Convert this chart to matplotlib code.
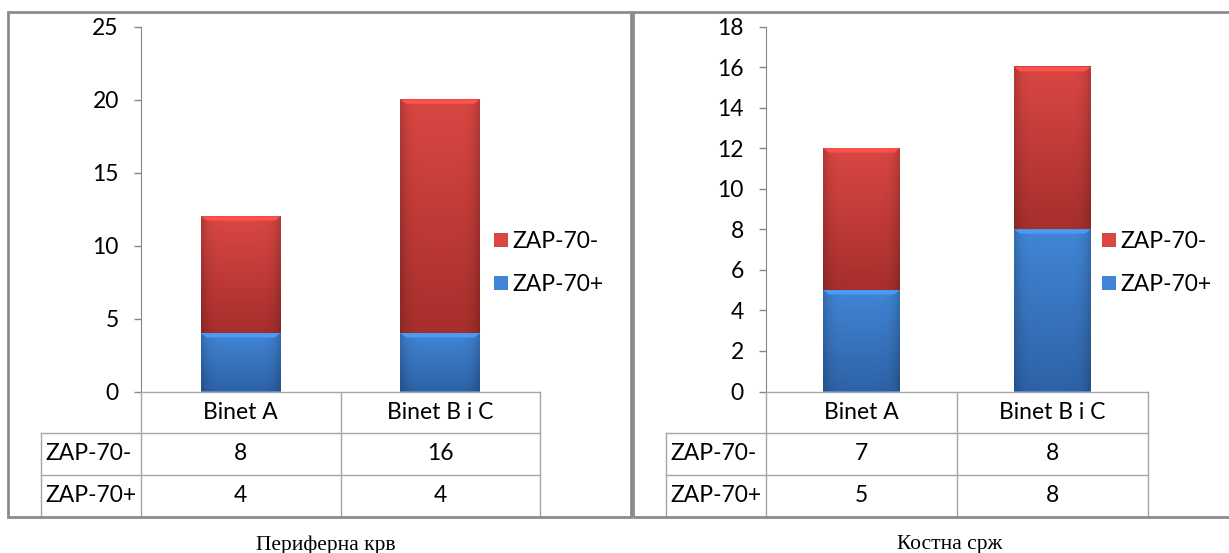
import numpy as np
import matplotlib
matplotlib.use("Agg")
import matplotlib.pyplot as plt
from matplotlib.colors import to_rgb

categories = ["Binet A", "Binet B i C"]
series = ["ZAP-70-", "ZAP-70+"]
blood_neg = [8, 16]
blood_pos = [4, 4]
marrow_neg = [7, 8]
marrow_pos = [5, 8]
blood_ticks = [0, 5, 10, 15, 20, 25]
marrow_ticks = [0, 2, 4, 6, 8, 10, 12, 14, 16, 18]
captions = ["Периферна крв", "Костна срж"]

W, H = 1229, 553
plt.rcParams['font.family'] = ['Lato', 'DejaVu Sans']
fig = plt.figure(figsize=(W / 100, H / 100), dpi=100)

RED = ("#DA4743", "#A62F2C")
BLUE = ("#4186D6", "#2E62A6")
GRID = "#A6A6A6"
FS = 16.5


def rect(x0, x1, y0, y1):
    # pixel box -> figure fraction [l, b, w, h]
    return [x0 / W, 1 - y1 / H, (x1 - x0) / W, (y1 - y0) / H]


def shade(ax, bars, cols):
    top, bot = np.array(to_rgb(cols[0])), np.array(to_rgb(cols[1]))
    for b in bars:
        x0, y0 = b.get_x(), b.get_y()
        x1, y1 = x0 + b.get_width(), y0 + b.get_height()
        ny, nx = 60, 40
        t = np.linspace(0, 1, ny)[:, None, None]
        img = top * (1 - t) + bot * t
        xs = np.linspace(-1, 1, nx)[None, :, None]
        img = img * (1 - 0.18 * np.abs(xs) ** 6)
        ax.imshow(np.clip(img, 0, 1), extent=[x0, x1, y0, y1], aspect='auto',
                  origin='upper', zorder=3, interpolation='bilinear')
        # light bevel strip on top
        hgt = (ax.get_ylim()[1] - ax.get_ylim()[0]) * 0.012
        ax.fill([x0, x1, x1 - 0.03, x0 + 0.03], [y1, y1, y1 - hgt, y1 - hgt],
                color=np.clip(top * 1.15, 0, 1), zorder=4, lw=0)


def panel(px, neg, pos, ticks, caption, cap_x):
    ax_l, ax_r, lab_l, fr_l, fr_r = px
    top_y, base_y, bot_y = 26.5, 391.5, 516.5
    ax = fig.add_axes(rect(ax_l, ax_r, top_y, base_y))
    x = np.arange(len(categories))
    ax.set_xlim(-0.5, len(categories) - 0.5)
    ax.set_ylim(0, ticks[-1])
    b1 = ax.bar(x, pos, 0.4, color=BLUE[0], label=series[1], zorder=2)
    b2 = ax.bar(x, neg, 0.4, bottom=pos, color=RED[0], label=series[0], zorder=2)
    shade(ax, b1, BLUE)
    shade(ax, b2, RED)
    ax.set_xlim(-0.5, len(categories) - 0.5)
    ax.set_ylim(0, ticks[-1])
    ax.set_yticks(ticks)
    ax.set_xticks([])
    for s in ["top", "right", "bottom"]:
        ax.spines[s].set_visible(False)
    ax.spines["left"].set_color("#868686")
    ax.tick_params(axis='y', length=5, width=1, color="#868686", pad=11,
                   labelsize=FS, labelcolor="black")
    ax.set_facecolor("none")

    # legend
    leg_x = ax_r - 46
    ax.legend(handles=[b2, b1], labels=series, loc='center left', frameon=False,
              bbox_to_anchor=((leg_x) / W, 1 - 263 / H),
              bbox_transform=fig.transFigure, borderaxespad=0, borderpad=0,
              handlelength=0.6, handleheight=0.6, handletextpad=0.2,
              labelspacing=0.95, fontsize=FS)

    # data table
    unit = (ax_r - ax_l) / len(categories)
    tab = fig.add_axes(rect(lab_l, ax_r, base_y, bot_y))
    left = -0.5 - (ax_l - lab_l) / unit
    tab.set_xlim(left, len(categories) - 0.5)
    tab.set_ylim(3, 0)
    tab.axis("off")
    kw = dict(color=GRID, lw=1, clip_on=False)
    tab.plot([-0.5, len(categories) - 0.5], [0, 0], **kw)
    tab.plot([left, len(categories) - 0.5], [1, 1], **kw)
    tab.plot([left, len(categories) - 0.5], [2, 2], **kw)
    tab.plot([left, left], [1, 3], **kw)
    for k in range(len(categories) + 1):
        tab.plot([k - 0.5, k - 0.5], [0, 3], **kw)
    for i, c in enumerate(categories):
        tab.text(i, 0.5, c, ha='center', va='center', fontsize=FS)
        tab.text(i, 1.5, str(neg[i]), ha='center', va='center', fontsize=FS)
        tab.text(i, 2.5, str(pos[i]), ha='center', va='center', fontsize=FS)
    tab.text(left + 0.025, 1.5, series[0], ha='left', va='center', fontsize=FS)
    tab.text(left + 0.025, 2.5, series[1], ha='left', va='center', fontsize=FS)

    # chart frame
    fig.add_artist(plt.Rectangle((fr_l / W, 1 - bot_y / H), (fr_r - fr_l) / W,
                                 (bot_y - 11.5) / H, transform=fig.transFigure,
                                 fill=False, ec="#8C8C8C", lw=2))
    fig.text(cap_x / W, 1 - 545 / H, caption, ha='center', va='center',
             fontsize=15.5, family='Liberation Serif')


panel((141, 540, 40.7, 8, 631), blood_neg, blood_pos, blood_ticks, captions[0], 326)
panel((766, 1148, 666, 633, 1232), marrow_neg, marrow_pos, marrow_ticks, captions[1], 950)

fig.savefig("out.png", dpi=100)
